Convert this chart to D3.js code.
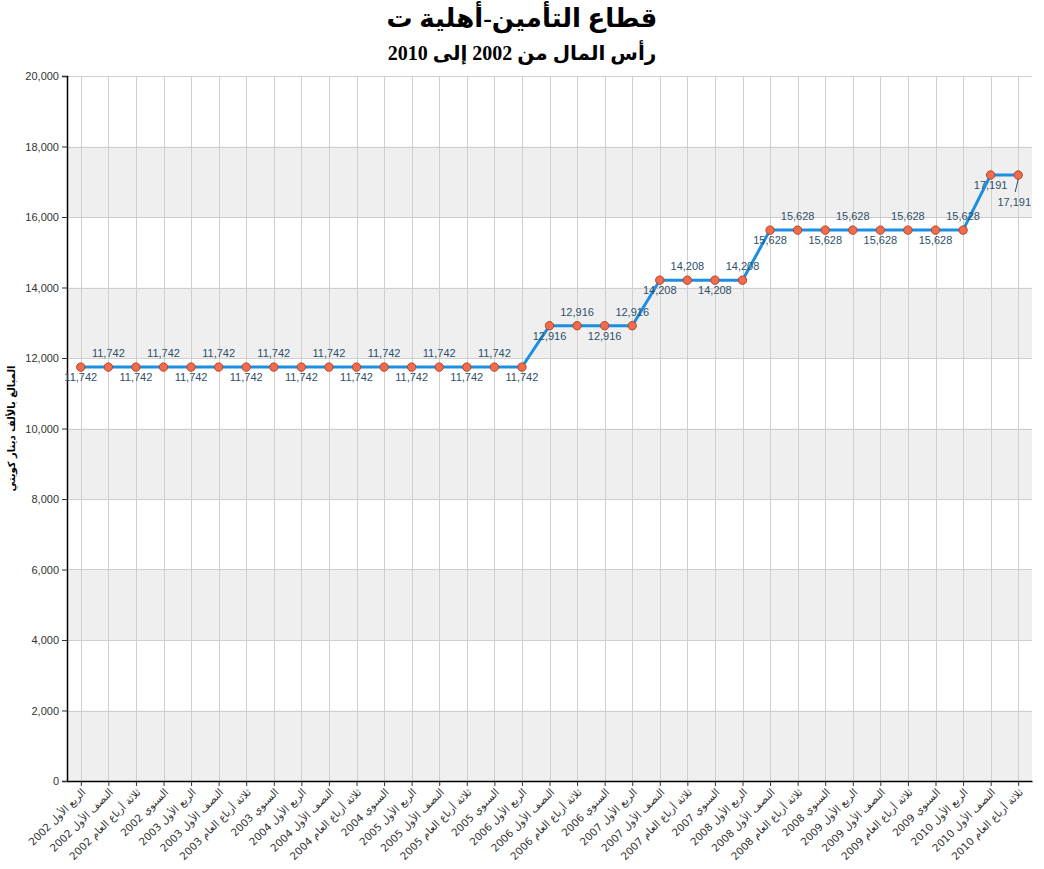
<!DOCTYPE html>
<html>
<head>
<meta charset="utf-8">
<script src="https://cdn.jsdelivr.net/npm/d3@7/dist/d3.min.js"></script>
<style>
  html, body { margin: 0; padding: 0; background: #fff; }
  svg { display: block; }
</style>
</head>
<body>
<svg id="chart" width="1044" height="869"></svg>
<script>
const periods = ["الربع الأول", "النصف الأول", "ثلاثة أرباع العام", "السنوي"];
const years = [2002, 2003, 2004, 2005, 2006, 2007, 2008, 2009, 2010];
const categories = [];
years.forEach(y => periods.forEach(p => { if (!(y === 2010 && p === "السنوي")) categories.push(p + " " + y); }));

const values = [
  11742, 11742, 11742, 11742, 11742, 11742, 11742, 11742,
  11742, 11742, 11742, 11742, 11742, 11742, 11742, 11742,
  11742, 12916, 12916, 12916, 12916, 14208, 14208, 14208,
  14208, 15628, 15628, 15628, 15628, 15628, 15628, 15628,
  15628, 17191, 17191
];
const yTicks = [0, 2000, 4000, 6000, 8000, 10000, 12000, 14000, 16000, 18000, 20000];

const title = "قطاع التأمين-أهلية ت";
const subtitle = "رأس المال من 2002 إلى 2010";
const yTitle = "المبالغ بالألف دينار كويتي";

const svg = d3.select("#chart");
const m = { left: 67, right: 1032, top: 76, bottom: 781 };

const x = d3.scalePoint().domain(categories).range([m.left, m.right]).padding(0.5);
const y = d3.scaleLinear().domain([0, 20000]).range([m.bottom, m.top]);

// bands
const bandG = svg.append("g");
for (let i = 0; i < yTicks.length - 1; i++) {
  if (i % 2 === 0) {
    bandG.append("rect")
      .attr("x", m.left).attr("width", m.right - m.left)
      .attr("y", y(yTicks[i + 1])).attr("height", y(yTicks[i]) - y(yTicks[i + 1]))
      .attr("fill", "#efefef");
  }
}

// grid
const grid = svg.append("g").attr("stroke", "#cfcfcf").attr("stroke-width", 1);
yTicks.forEach(t => grid.append("line")
  .attr("x1", m.left).attr("x2", m.right)
  .attr("y1", Math.round(y(t)) + 0.5).attr("y2", Math.round(y(t)) + 0.5));
categories.forEach(c => grid.append("line")
  .attr("x1", Math.round(x(c)) + 0.5).attr("x2", Math.round(x(c)) + 0.5)
  .attr("y1", m.top).attr("y2", m.bottom));

// axes
const yAxis = svg.append("g").attr("transform", `translate(${m.left},0)`)
  .call(d3.axisLeft(y).tickValues(yTicks).tickSize(5).tickPadding(3).tickFormat(d3.format(",")));
yAxis.select(".domain").attr("stroke", "#000").attr("stroke-width", 1.5);
yAxis.selectAll(".tick line").attr("stroke", "#333");
yAxis.selectAll(".tick text").attr("fill", "#333").style("font", "11px 'Liberation Sans', Arial, sans-serif");

const xAxis = svg.append("g").attr("transform", `translate(0,${m.bottom})`)
  .call(d3.axisBottom(x).tickSize(5).tickSizeOuter(0));
xAxis.select(".domain").attr("stroke", "#000").attr("stroke-width", 1.5);
xAxis.selectAll(".tick line").attr("stroke", "#333");
xAxis.selectAll(".tick text")
  .attr("fill", "#333")
  .style("font", "10.5px 'DejaVu Sans', Arial, sans-serif")
  .attr("text-anchor", "end")
  .attr("direction", "ltr")
  .attr("y", 0).attr("dy", 0)
  .attr("transform", "translate(5,12) rotate(-45)");

// line
const line = d3.line().x((d, i) => x(categories[i])).y(d => y(d));
svg.append("path").datum(values)
  .attr("fill", "none").attr("stroke", "#1a8fe3").attr("stroke-width", 3)
  .attr("d", line);

// markers
svg.append("g").selectAll("circle").data(values).join("circle")
  .attr("cx", (d, i) => x(categories[i])).attr("cy", d => y(d)).attr("r", 4.2)
  .attr("fill", "#f26b4a").attr("stroke", "#b2452d").attr("stroke-width", 1);

// labels: new value -> below, then alternate
let side = [];
let flip = 0;
values.forEach((v, i) => {
  if (i === 0 || v !== values[i - 1]) flip = 0; else flip = 1 - flip;
  side.push(flip === 0 ? "below" : "above");
});
const fmt = d3.format(",");
const labG = svg.append("g").style("font", "11px 'Liberation Sans', Arial, sans-serif").attr("fill", "#2f4f6a");
values.forEach((v, i) => {
  const px = x(categories[i]), py = y(v);
  const last = i === values.length - 1;
  if (last) {
    labG.append("line").attr("x1", px).attr("y1", py + 4).attr("x2", px - 3).attr("y2", py + 17)
      .attr("stroke", "#2f4f6a").attr("stroke-width", 1);
    labG.append("text").attr("x", px - 4).attr("y", py + 31).attr("text-anchor", "middle").text(fmt(v));
  } else {
    labG.append("text").attr("x", px).attr("y", side[i] === "below" ? py + 14 : py - 10)
      .attr("text-anchor", "middle").text(fmt(v));
  }
});

// titles
svg.append("text").attr("x", 522).attr("y", 27).attr("text-anchor", "middle")
  .style("font", "bold 26px 'Liberation Serif', 'Times New Roman', 'DejaVu Sans', serif")
  .attr("fill", "#000").text(title);
svg.append("text").attr("x", 522).attr("y", 60).attr("text-anchor", "middle")
  .style("font", "bold 20px 'Liberation Serif', 'Times New Roman', 'DejaVu Sans', serif")
  .attr("fill", "#000").text(subtitle);
svg.append("text")
  .attr("transform", `translate(15,${(m.top + m.bottom) / 2}) rotate(-90)`)
  .attr("text-anchor", "middle")
  .style("font", "bold 10px 'DejaVu Sans', Arial, sans-serif")
  .attr("fill", "#000").text(yTitle);
</script>
</body>
</html>
